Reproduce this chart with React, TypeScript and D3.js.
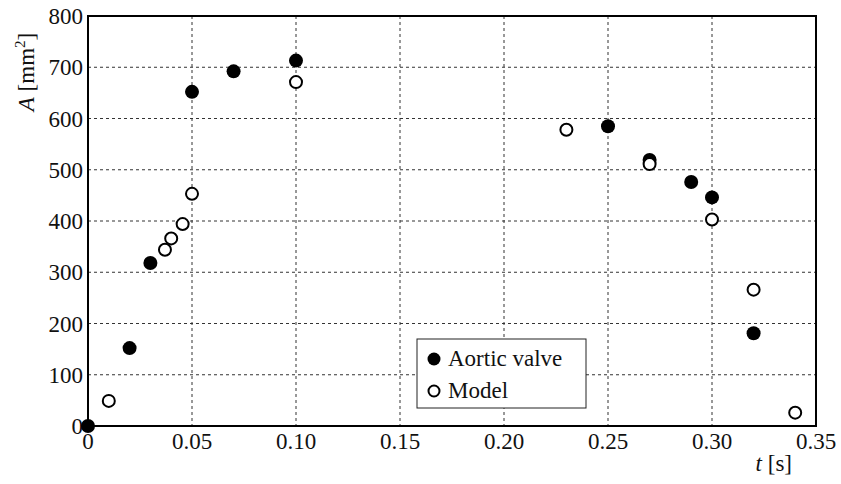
import * as d3 from 'd3';

// aortic valve opening area, measured
const valveT = [0, 0.02, 0.03, 0.05, 0.07, 0.10, 0.25, 0.27, 0.29, 0.30, 0.32];
const valveA = [0, 152, 318, 652, 692, 713, 585, 519, 476, 446, 181];

// model
const modelT = [0.01, 0.037, 0.04, 0.0455, 0.05, 0.10, 0.23, 0.27, 0.30, 0.32, 0.34];
const modelA = [49, 344, 366, 394, 453, 671, 578, 511, 403, 266, 26];

const xTicks = [0, 0.05, 0.10, 0.15, 0.20, 0.25, 0.30, 0.35];
const yTicks = [0, 100, 200, 300, 400, 500, 600, 700, 800];

const chartW = 841;
const chartH = 484;
const margin = { left: 88, right: 25, top: 16, bottom: 58 };
const FAMILY = 'Liberation Serif';

export default function App() {
    const xScale = d3.scaleLinear().domain([0, 0.35]).range([margin.left, chartW - margin.right]);
    const yScale = d3.scaleLinear().domain([0, 800]).range([chartH - margin.bottom, margin.top]);
    const fmtX = (v: number) => (v === 0 ? '0' : d3.format('.2f')(v));
    const serif = { fontFamily: `"${FAMILY}"` };

    return (
        <div style={{ position: 'absolute', left: 0, top: 0 }}>
            <svg width={chartW} height={chartH}>
                <g stroke="#333" strokeWidth={1} strokeDasharray="3,3">
                    {xTicks.slice(1, -1).map(v => (
                        <line key={'gx' + v} x1={xScale(v)} x2={xScale(v)} y1={yScale(800)} y2={yScale(0)} />
                    ))}
                    {yTicks.slice(1, -1).map(v => (
                        <line key={'gy' + v} x1={xScale(0)} x2={xScale(0.35)} y1={yScale(v)} y2={yScale(v)} />
                    ))}
                </g>
                <rect x={xScale(0)} y={yScale(800)} width={xScale(0.35) - xScale(0)} height={yScale(0) - yScale(800)}
                    fill="none" stroke="#000" strokeWidth={2} />
                {yTicks.map(v => (
                    <text key={'ty' + v} x={xScale(0) - 5} y={yScale(v) + 8} textAnchor="end" fill="#111"
                        fontFamily={FAMILY} fontSize={23} style={serif}>{v}</text>
                ))}
                {xTicks.map(v => (
                    <text key={'tx' + v} x={xScale(v)} y={449} textAnchor="middle" fill="#111"
                        fontFamily={FAMILY} fontSize={23} style={serif}>{fmtX(v)}</text>
                ))}
                <text transform="translate(34, 72) rotate(-90)" textAnchor="middle" fill="#111"
                    fontFamily={FAMILY} fontSize={23} style={serif}>
                    <tspan fontStyle="italic">A</tspan> [mm<tspan dy={-9} fontSize={15}>2</tspan><tspan dy={9}>]</tspan>
                </text>
                <text x={792} y={471} textAnchor="end" fill="#111" fontFamily={FAMILY} fontSize={23} style={serif}>
                    <tspan fontStyle="italic">t</tspan> [s]
                </text>
                <rect x={417} y={339} width={169} height={69} fill="#fff" stroke="#222" strokeWidth={1} />
                <circle cx={434} cy={359} r={6.5} fill="#000" />
                <text x={448} y={366} fill="#111" fontFamily={FAMILY} fontSize={23} style={serif}>Aortic valve</text>
                <circle cx={434} cy={391} r={5.5} fill="#fff" stroke="#000" strokeWidth={2} />
                <text x={448} y={398} fill="#111" fontFamily={FAMILY} fontSize={23} style={serif}>Model</text>
                {valveT.map((t, i) => (
                    <circle key={'v' + i} cx={xScale(t)} cy={yScale(valveA[i])} r={7} fill="#000" />
                ))}
                {modelT.map((t, i) => (
                    <circle key={'m' + i} cx={xScale(t)} cy={yScale(modelA[i])} r={6} fill="#fff" stroke="#000" strokeWidth={2} />
                ))}
            </svg>
        </div>
    );
}
